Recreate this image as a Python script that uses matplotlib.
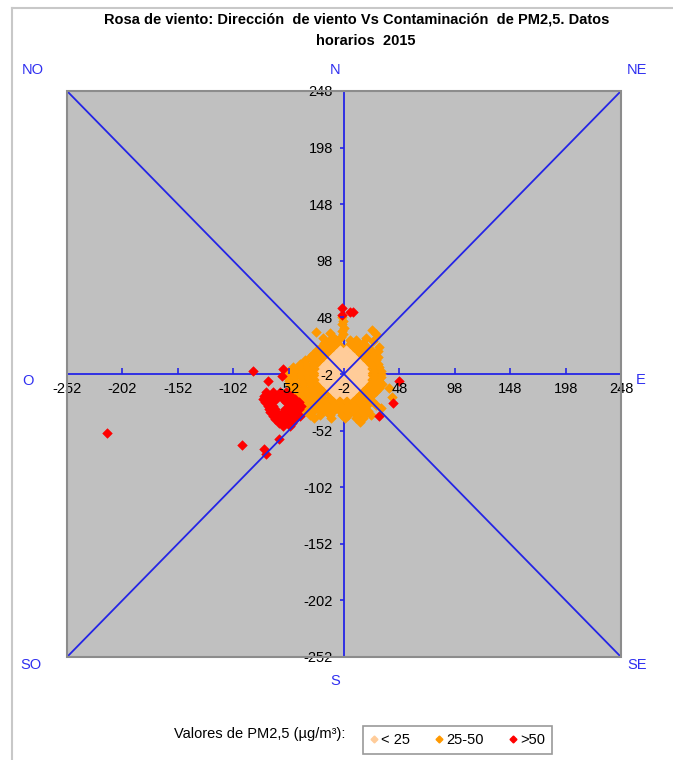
import matplotlib
matplotlib.use('Agg')
import matplotlib.pyplot as plt
from matplotlib.lines import Line2D
from matplotlib.patches import Rectangle

plt.rcParams['font.family'] = ['Liberation Sans', 'DejaVu Sans']

# ---------------- data (data units) ----------------
ticks = [-252, -202, -152, -102, -52, -2, 48, 98, 148, 198, 248]

# PM2,5 < 25  (dense disk, listed row by row)
low_row_y = [-20, -17, -14, -11, -8, -5, -2, 1, 4, 7, 10, 13, 16, 19]
low_row_x = [
    [-9, -3, 3],
    [-12, -6, 0, 6],
    [-15, -9, -3, 3, 9],
    [-18, -12, -6, 0, 6, 12],
    [-21, -15, -9, -3, 3, 9, 15],
    [-22, -18, -12, -6, 0, 6, 12, 16],
    [-21, -15, -9, -3, 3, 9, 15],
    [-22, -18, -12, -6, 0, 6, 12, 16],
    [-21, -15, -9, -3, 3, 9, 15],
    [-18, -12, -6, 0, 6, 12],
    [-15, -9, -3, 3, 9],
    [-12, -6, 0, 6],
    [-9, -3, 3],
    [-6, 0],
]

# PM2,5 25-50
mid_row_y = [28, 25, 22, 19, 16, 13, 10, 7, 4, 1, -2, -5, -8, -11, -14, -17,
             -20, -23, -26, -29, -32, -35, -38, -41]
mid_row_x = [
    [-15, -9, 3, 9],
    [-20, -14, -8, 4, 10, 15],
    [-23, -17, -11, -5, 1, 7, 13, 19],
    [-26, -20, -14, 5, 10, 16, 22],
    [-30, -24, -18, 12, 18, 24],
    [-33, -27, -20, 12, 18, 24, 29],
    [-37, -31, -25, -20, 15, 21, 27],
    [-42, -36, -30, -24, 17, 23, 29],
    [-48, -42, -36, -30, -25, 18, 24, 30],
    [-52, -46, -40, -34, -28, -24, 19, 25, 31],
    [-54, -48, -42, -36, -30, -25, 19, 25, 31],
    [-53, -47, -41, -35, -29, -25, 19, 25, 31],
    [-52, -46, -40, -34, -28, -24, 18, 24, 30],
    [-51, -45, -39, -33, -27, -22, 15, 21, 27, 32],
    [-50, -44, -38, -32, -26, -19, 12, 18, 24, 30],
    [-48, -42, -36, -30, -24, -17, 9, 15, 21, 27],
    [-47, -41, -35, -29, -23, -15, 6, 12, 18, 24],
    [-45, -39, -33, -27, -21, -15, -9, -3, 3, 9, 15, 21],
    [-43, -37, -31, -25, -19, -13, -7, -1, 5, 11, 17, 23],
    [-41, -35, -29, -23, -17, -11, -5, 1, 7, 13, 19, 27],
    [-39, -33, -27, -21, -15, -9, -3, 3, 9, 17, 31],
    [-36, -30, -24, -18, -12, -6, 0, 6, 13, 20],
    [-33, -24, -15, -4, 2, 10, 16, 22],
    [-29, -14, -1, 9, 15],
]
mid_extra_x = [-4, -3, -4, -2, -4, -3, -5, -27, -15, -12, -21, 23, 27, 18, 24, 30, 29, 39, 41, 12]
mid_extra_y = [48, 45, 42, 39, 36, 33, 31, 35, 34, 31, 30, 37, 33, 30, 27, 22, 18, -14, -22, -44]

# PM2,5 > 50
high_row_y = [-18, -21, -24, -27, -30, -33, -36, -39, -42, -45, -48]
high_row_x = [
    [-72, -66, -60, -54],
    [-74, -68, -62, -56, -50],
    [-75, -69, -63, -57, -51, -46],
    [-73, -67, -54, -48, -43],
    [-71, -66, -52, -46, -41],
    [-70, -64, -55, -49, -43],
    [-69, -63, -57, -51, -45],
    [-66, -60, -54, -48, -42],
    [-64, -58, -52, -46],
    [-61, -55, -49],
    [-57, -51],
]
high_extra_x = [-216, -84, -71, -58, -57, -94, -74, -72, -61, -4, -4, 3, 6, 48, 42, 30]
high_extra_y = [-54, 1, -8, -4, 2, -65, -68, -73, -59, 56, 50, 53, 53, -8, -28, -39]

compass = ['NO', 'N', 'NE', 'O', 'E', 'SO', 'S', 'SE']
legend_labels = ['< 25', '25-50', '>50']
colors = ['#FFCC99', '#FF9900', '#FF0000']


def expand(row_y, row_x, ex_x=(), ex_y=()):
    xs, ys = [], []
    for y, row in zip(row_y, row_x):
        for x in row:
            xs.append(x)
            ys.append(y)
    xs += list(ex_x)
    ys += list(ex_y)
    return xs, ys


lx, ly = expand(low_row_y, low_row_x)
mx, my = expand(mid_row_y, mid_row_x, mid_extra_x, mid_extra_y)
hx, hy = expand(high_row_y, high_row_x, high_extra_x, high_extra_y)

# ---------------- figure ----------------
W, H = 673, 760
fig = plt.figure(figsize=(W / 100, H / 100), dpi=100)
fig.patch.set_facecolor('white')

L, R, T, B = 67, 621, 91, 657
ax = fig.add_axes([L / W, 1 - B / H, (R - L) / W, (B - T) / H])
ax.set_facecolor('#C0C0C0')
ax.set_xlim(-252, 248)
ax.set_ylim(-252, 248)

blue = '#2424E6'
for s in ['top', 'right']:
    ax.spines[s].set_visible(False)
ax.spines['left'].set_position(('data', -2))
ax.spines['bottom'].set_position(('data', -2))
for s in ['left', 'bottom']:
    ax.spines[s].set_color(blue)
    ax.spines[s].set_linewidth(1.3)
    ax.spines[s].set_zorder(1)

ax.set_xticks(ticks)
ax.set_yticks(ticks)
ax.set_xticklabels([str(t) for t in ticks])
ax.set_yticklabels([str(t) for t in ticks])
ax.tick_params(axis='x', direction='in', length=4, width=1.2, color=blue,
               labelsize=10.5, pad=6, labelcolor='black')
ax.tick_params(axis='y', direction='out', length=3, width=1.2, color=blue,
               labelsize=10.5, pad=5, labelcolor='black')
ax.xaxis.set_zorder(6)
ax.yaxis.set_zorder(6)

# border of plot area
ax.add_patch(Rectangle((0, 0), 1, 1, transform=ax.transAxes, fill=False,
                       edgecolor='#8C8C8C', linewidth=1.5, zorder=7, clip_on=False))

ms = 24
ax.scatter(mx, my, marker='D', s=ms, color=colors[1], edgecolors=colors[1],
           linewidths=0.4, zorder=2)
ax.scatter(lx, ly, marker='D', s=ms, color=colors[0], edgecolors=colors[0],
           linewidths=0.4, zorder=3)
ax.scatter(hx, hy, marker='D', s=ms, color=colors[2], edgecolors=colors[2],
           linewidths=0.4, zorder=4)

# diagonals (drawn above the points)
ax.plot([0, 1], [1, 0], transform=ax.transAxes, color=blue, lw=1.3, zorder=5)
ax.plot([0, 1], [0, 1], transform=ax.transAxes, color=blue, lw=1.3, zorder=5)

# compass labels
cblue = '#2F2FF0'
cpos = [(33, 70), (335, 70), (637, 70), (28, 381), (641, 380),
        (31, 665), (335, 681), (637, 665)]
for lab, (px, py) in zip(compass, cpos):
    fig.text(px / W, 1 - py / H, lab, color=cblue, fontsize=10.5,
             ha='center', va='center')

# title
fig.text(357 / W, 1 - 20 / H,
         'Rosa de viento: Dirección  de viento Vs Contaminación  de PM2,5. Datos',
         ha='center', va='center', fontsize=10.5, fontweight='bold')
fig.text(366 / W, 1 - 41 / H, 'horarios  2015', ha='center', va='center',
         fontsize=10.5, fontweight='bold')

# legend
fig.text(345 / W, 1 - 734 / H, 'Valores de PM2,5 (µg/m³):', ha='right',
         va='center', fontsize=10.5)
handles = [Line2D([], [], marker='D', linestyle='none', markersize=3.5,
                  markerfacecolor=c, markeredgecolor=c) for c in colors]
leg = fig.legend(handles, legend_labels, loc='center',
                 bbox_to_anchor=(457.5 / W, 1 - 740 / H), ncol=3,
                 fontsize=10.5, frameon=True, fancybox=False,
                 handlelength=0.6, handletextpad=0.2, columnspacing=1.7,
                 borderpad=0.45, borderaxespad=0)
leg.get_frame().set_edgecolor('#808080')
leg.get_frame().set_linewidth(1.2)

# outer chart frame
fig.add_artist(Line2D([12 / W, 12 / W], [0, 1 - 8 / H], transform=fig.transFigure,
                      color='#C8C8C8', lw=1.5))
fig.add_artist(Line2D([12 / W, 1], [1 - 8 / H, 1 - 8 / H], transform=fig.transFigure,
                      color='#C8C8C8', lw=1.5))

fig.savefig('out.png', dpi=100)
